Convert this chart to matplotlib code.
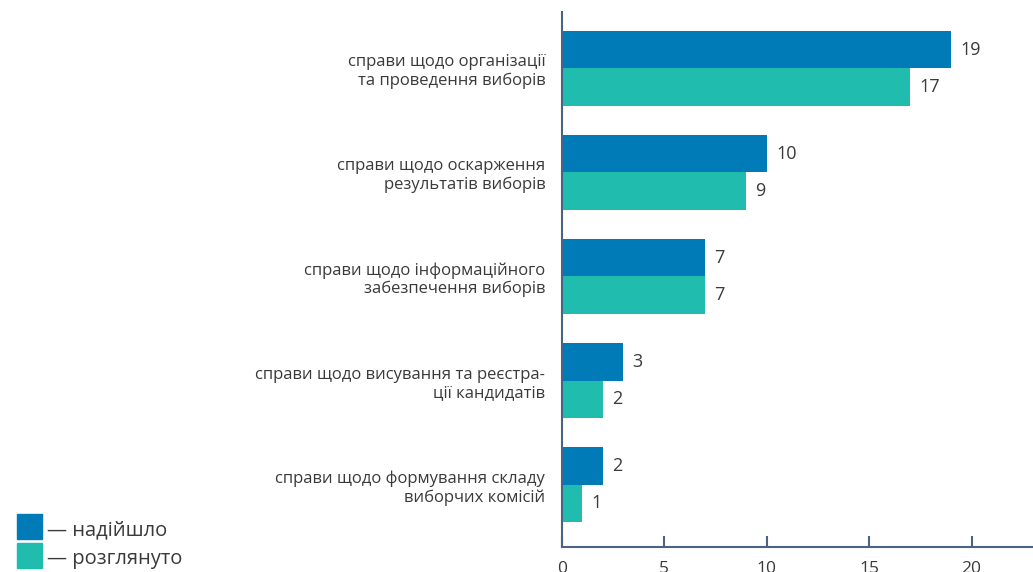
import matplotlib
matplotlib.use("Agg")
import matplotlib.pyplot as plt
from matplotlib.patches import Rectangle
import numpy as np

plt.rcParams['font.family'] = ['Open Sans', 'DejaVu Sans']

categories = [
    "справи щодо організації\nта проведення виборів",
    "справи щодо оскарження\nрезультатів виборів",
    "справи щодо інформаційного\nзабезпечення виборів",
    "справи щодо висування та реєстра-\nції кандидатів",
    "справи щодо формування складу\nвиборчих комісій",
]
received = [19, 10, 7, 3, 2]
reviewed = [17, 9, 7, 2, 1]
series_names = ["— надійшло", "— розглянуто"]
xticks = [0, 5, 10, 15, 20]

c_blue = "#007bb8"
c_teal = "#20bdae"
c_text = "#3a3a3a"
c_axis = "#4a6385"

fig = plt.figure(figsize=(10.33, 5.72), dpi=100)
ax = fig.add_axes([0.544, 0.0437, 0.456, 0.935])

y = np.arange(len(categories))
h = 0.36
ax.barh(y - h / 2, received, height=h, color=c_blue)
ax.barh(y + h / 2, reviewed, height=h, color=c_teal)

for yi, v in zip(y, received):
    ax.text(v + 0.45, yi - h / 2, str(v), va="center", ha="left",
            fontsize=13, color=c_text)
for yi, v in zip(y, reviewed):
    ax.text(v + 0.45, yi + h / 2, str(v), va="center", ha="left",
            fontsize=13, color=c_text)

ax.set_ylim(4.6, -0.54)
ax.set_xlim(0, 23)
ax.set_yticks(y)
ax.set_yticklabels(categories, fontsize=12, color=c_text, linespacing=1.2)
ax.tick_params(axis="y", length=0, pad=12)
ax.set_xticks(xticks)
ax.tick_params(axis="x", direction="in", length=8, width=1.5, color=c_axis,
               pad=10, labelsize=12.5, labelcolor=c_text)
for lab in ax.get_yticklabels():
    lab.set_ha("right")
    lab.set_multialignment("right")

for s in ["top", "right"]:
    ax.spines[s].set_visible(False)
for s in ["left", "bottom"]:
    ax.spines[s].set_color(c_axis)
    ax.spines[s].set_linewidth(1.5)

# legend
for i, (name, col) in enumerate(zip(series_names, [c_blue, c_teal])):
    y0 = 1 - (514 + i * 29) / 572
    fig.patches.append(Rectangle((17 / 1033, y0 - 25 / 572), 25 / 1033, 25 / 572,
                                 transform=fig.transFigure, color=col))
    fig.text(47 / 1033, y0 - 16 / 572, name, fontsize=14.5, color=c_text,
             va="center", ha="left")

fig.savefig("out.png", dpi=100)
